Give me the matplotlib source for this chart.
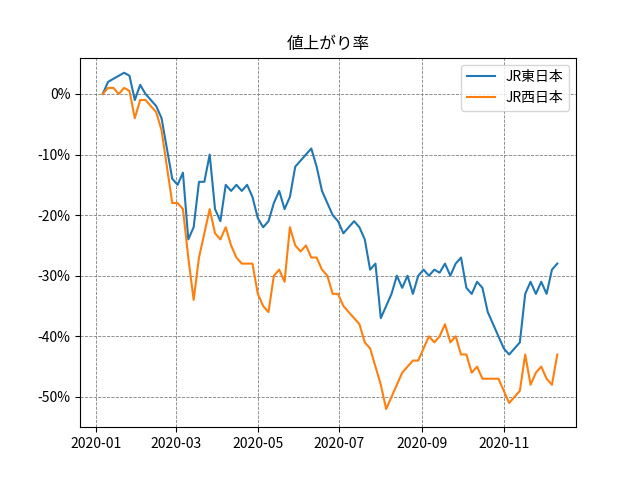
import pandas as pd
import matplotlib.pyplot as plt
import matplotlib.dates as mdates
from matplotlib.ticker import FuncFormatter

plt.rcParams["font.family"] = "Noto Sans CJK JP"

# sample dates (every 4 days from 2020-01-06)
dates = pd.date_range("2020-01-06", periods=86, freq="4D")

jr_east = [0, 2, 2.5, 3, 3.5, 3, -1, 1.5, 0, -1,
           -2, -4, -9, -14, -15, -13, -24, -22, -14.5, -14.5,
           -10, -19, -21, -15, -16, -15, -16, -15, -17, -20.5,
           -22, -21, -18, -16, -19, -17, -12, -11, -10, -9,
           -12, -16, -18, -20, -21, -23, -22, -21, -22, -24,
           -29, -28, -37, -35, -33, -30, -32, -30, -33, -30,
           -29, -30, -29, -29.5, -28, -30, -28, -27, -32, -33,
           -31, -32, -36, -38, -40, -42, -43, -42, -41, -33,
           -31, -33, -31, -33, -29, -28]

jr_west = [0, 1, 1, 0, 1, 0.5, -4, -1, -1, -2,
           -3, -6, -12, -18, -18, -19, -27, -34, -27, -23,
           -19, -23, -24, -22, -25, -27, -28, -28, -28, -33,
           -35, -36, -30, -29, -31, -22, -25, -26, -25, -27,
           -27, -29, -30, -33, -33, -35, -36, -37, -38, -41,
           -42, -45, -48, -52, -50, -48, -46, -45, -44, -44,
           -42, -40, -41, -40, -38, -41, -40, -43, -43, -46,
           -45, -47, -47, -47, -47, -49, -51, -50, -49, -43,
           -48, -46, -45, -47, -48, -43]

fig, ax = plt.subplots(figsize=(6.4, 4.8), dpi=100)
ax.plot(dates, jr_east, color="#1f77b4", label="JR東日本")
ax.plot(dates, jr_west, color="#ff7f0e", label="JR西日本")

ax.set_title("値上がり率")
ax.set_ylim(-55, 6)
ax.set_xlim(pd.Timestamp("2019-12-20"), pd.Timestamp("2020-12-25"))
ax.xaxis.set_major_locator(mdates.MonthLocator(bymonth=[1, 3, 5, 7, 9, 11]))
ax.xaxis.set_major_formatter(mdates.DateFormatter("%Y-%m"))
ax.yaxis.set_major_formatter(FuncFormatter(lambda v, p: f"{v:.0f}%"))
ax.grid(color="gray", linestyle="--", linewidth=0.6)
ax.legend(loc="upper right")

plt.savefig("out.png")
